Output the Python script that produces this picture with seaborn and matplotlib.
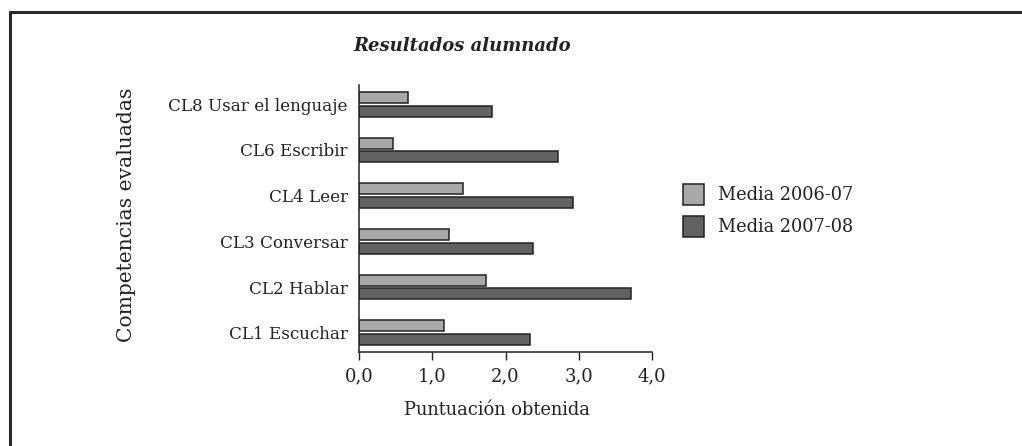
import matplotlib
matplotlib.use('Agg')
import matplotlib.pyplot as plt
import pandas as pd
import seaborn as sns
from matplotlib.lines import Line2D

# Data
competencias = ['CL8 Usar el lenguaje', 'CL6 Escribir', 'CL4 Leer',
                'CL3 Conversar', 'CL2 Hablar', 'CL1 Escuchar']
media_2006_07 = [0.67, 0.47, 1.42, 1.23, 1.74, 1.16]
media_2007_08 = [1.82, 2.72, 2.92, 2.38, 3.72, 2.34]
series = ['Media 2006-07', 'Media 2007-08']
x_ticks = [0, 1, 2, 3, 4]
x_tick_labels = ['0,0', '1,0', '2,0', '3,0', '4,0']

# long format for seaborn
df = pd.DataFrame({
    'competencia': competencias * 2,
    'serie': [series[0]] * len(competencias) + [series[1]] * len(competencias),
    'valor': media_2006_07 + media_2007_08,
})

sns.set_style('white')
plt.rcParams['font.family'] = ['DejaVu Serif']
plt.rcParams['font.size'] = 12

fig = plt.figure(figsize=(10.22, 4.46), dpi=100)
ax = fig.add_axes([359 / 1022, 1 - 352 / 446, 293 / 1022, 267 / 446])

sns.barplot(data=df, y='competencia', x='valor', hue='serie', orient='h',
            order=competencias, hue_order=series,
            palette=['#a7a8ab', '#626264'], width=0.6, gap=0.2,
            edgecolor='#222222', linewidth=1.1, ax=ax)

ax.set_xlim(0, 4)
ax.set_ylim(5.42, -0.42)
ax.set_xticks(x_ticks)
ax.set_xticklabels(x_tick_labels)
ax.tick_params(axis='x', bottom=True, direction='out', length=6, width=1,
               color='#222222', pad=5, labelsize=13, labelcolor='#222222')
ax.tick_params(axis='y', left=False, length=0, pad=8, labelsize=12.1,
               labelcolor='#222222')
for side in ['top', 'right']:
    ax.spines[side].set_visible(False)
for side in ['left', 'bottom']:
    ax.spines[side].set_color('#222222')
    ax.spines[side].set_linewidth(1.1)

ax.set_xlabel('')
ax.set_ylabel('')
fig.text(497 / 1022, 1 - 410 / 446, 'Puntuación obtenida', ha='center',
         va='center', fontsize=12.9, color='#222222')
fig.text(127 / 1022, 1 - 215 / 446, 'Competencias evaluadas', ha='center',
         va='center', rotation=90, fontsize=14.6, color='#222222')
fig.text(462 / 1022, 1 - 46 / 446, 'Resultados alumnado', ha='center',
         va='center', fontsize=13, fontweight='bold', fontstyle='italic',
         color='#222222')

handles, labels = ax.get_legend_handles_labels()
ax.get_legend().remove()
fig.legend(handles, labels, loc='upper left',
           bbox_to_anchor=(674 / 1022, 1 - 175 / 446), frameon=False,
           handlelength=1.21, handleheight=1.44, handletextpad=0.75,
           labelspacing=0.6, borderpad=0, fontsize=12.8,
           labelcolor='#222222')

# frame lines at top and left of the figure
fig.add_artist(Line2D([9.5 / 1022, 9.5 / 1022], [0, 1 - 11.5 / 446],
                      color='#2a2a2a', lw=2.2))
fig.add_artist(Line2D([9.5 / 1022, 1], [1 - 11.5 / 446, 1 - 11.5 / 446],
                      color='#2a2a2a', lw=2.2))

fig.savefig('out.png', dpi=100)
